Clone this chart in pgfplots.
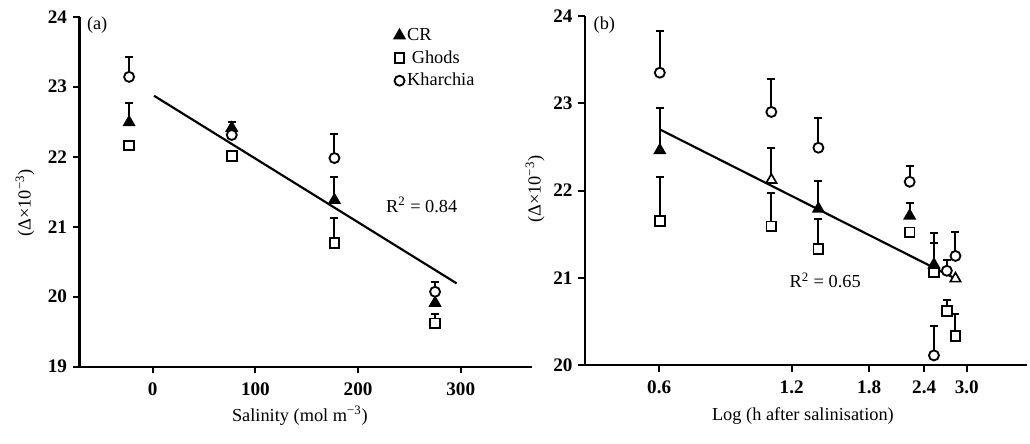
\documentclass[border=0pt]{standalone}
\usepackage{pgfplots}
\pgfplotsset{compat=1.18}
\usepackage{pgfplotstable}
\usepackage{fontspec}
\setmainfont{Liberation Serif}

\pgfplotstableread{
x y e
-23 22.49 0.28
77 22.41 0.09
177 21.38 0.33
275 19.91 0
}\crA
\pgfplotstableread{
x y e
-23 22.16 0
77 22.01 0
177 20.77 0.35
275 19.62 0.13
}\ghA
\pgfplotstableread{
x y e
-23 23.14 0.28
77 22.31 0
177 21.98 0.34
275 20.07 0.14
}\khA
\pgfplotstableread{
x y e
0.602 22.46 0.48
1.380 21.79 0.32
2.225 21.71 0.15
2.526 21.15 0.36
}\crB
\pgfplotstableread{
x y e
1.079 22.12 0.37
2.827 20.99 0
}\crBopen
\pgfplotstableread{
x y e
0.602 21.65 0.50
1.079 21.59 0.38
1.380 21.33 0.34
2.225 21.52 0
2.526 21.06 0.34
2.702 20.62 0.13
2.827 20.33 0.26
}\ghB
\pgfplotstableread{
x y e
0.602 23.35 0.48
1.079 22.90 0.38
1.380 22.49 0.34
2.225 22.10 0.18
2.526 20.11 0.34
2.702 21.08 0.12
2.827 21.25 0.28
}\khB

\pgfplotsset{
  myaxis/.style={
    scale only axis,
    axis lines*=left,
    axis line style={line width=1.4pt},
    tick style={line width=1.2pt, black},
    tick align=outside,
    major tick length=4pt,
    minor tick num=0,
    /pgf/number format/assume math mode=true,
    ticklabel style={font=\fontsize{11.5}{13}\selectfont\bfseries},
    xticklabel style={yshift=-2pt},
    label style={font=\fontsize{11}{13}\selectfont},
    clip=false,
  },
  eb/.style={
    error bars/.cd, y dir=plus, y explicit,
    error bar style={line width=1.2pt, black},
    error mark options={rotate=90, mark size=2.4pt, line width=1.2pt, black},
  },
  crs/.style={only marks, mark=triangle*, mark size=3.6pt, mark options={fill=black, draw=black, line width=1pt}},
  crso/.style={only marks, mark=triangle*, mark size=3.6pt, mark options={fill=white, draw=black, line width=1pt}},
  ghs/.style={only marks, mark=square*, mark size=2.9pt, mark options={fill=white, draw=black, line width=1.1pt}},
  khs/.style={only marks, mark=*, mark size=3pt, mark options={fill=white, draw=black, line width=1.1pt}},
}

\begin{document}
\begin{tikzpicture}[font=\fontsize{11}{13}\selectfont]
\useasboundingbox (0,0) rectangle (618pt,265.8pt);

\begin{axis}[myaxis,
  at={(47.7pt,45.8pt)}, anchor=south west,
  width=271.5pt, height=210pt,
  xmin=-71.3, xmax=369.4, ymin=19, ymax=24,
  xtick={0,100,200,300}, ytick={19,20,21,22,23,24},
  xlabel={Salinity (mol m\textsuperscript{−3})},
  ylabel={(Δ×10\textsuperscript{−3})},
  xlabel style={at={(axis description cs:0.487,0)}, anchor=center, yshift=-29.6pt},
  ylabel style={at={(axis description cs:-0.1204,0.468)}, anchor=center},
  legend style={at={(rel axis cs:0.695,0.975)}, anchor=north west, draw=none, fill=none,
    font=\fontsize{11}{13}\selectfont, row sep=1.5pt, inner sep=0pt, nodes={inner sep=1.5pt}},
  legend cell align=left,
  legend image code/.code={\draw[#1] plot coordinates {(0pt,0pt)};},
]
\addplot[black, line width=1.3pt, forget plot] coordinates {(1.3,22.87) (296,20.19)};
\addplot[crs, eb] table[x=x, y=y, y error=e] {\crA};
\addlegendentry{CR}
\addplot[ghs, eb] table[x=x, y=y, y error=e] {\ghA};
\addlegendentry{\ Ghods}
\addplot[khs, eb] table[x=x, y=y, y error=e] {\khA};
\addlegendentry{Kharchia}
\node[anchor=north west, inner sep=0pt, xshift=4.3pt] at (rel axis cs:0,1) {(a)};
\node at (axis cs:262,21.31) {R\textsuperscript{2} = 0.84};
\end{axis}

\begin{axis}[myaxis,
  at={(351pt,46.8pt)}, anchor=south west,
  width=265.2pt, height=209.4pt,
  xmode=log, log basis x=10,
  xmin=0.407, xmax=4.11, ymin=20, ymax=24,
  xtick={0.6,1.2,1.8,2.4,3.0},
  xticklabels={0.6,1.2,1.8,2.4,3.0},
  ytick={20,21,22,23,24},
  xlabel={Log (h after salinisation)},
  ylabel={(Δ×10\textsuperscript{−3})},
  xlabel style={at={(axis description cs:0.493,0)}, anchor=center, yshift=-30.6pt},
  ylabel style={at={(axis description cs:-0.1131,0.504)}, anchor=center},
]
\addplot[black, line width=1.3pt] coordinates {(0.602,22.70) (2.827,20.99)};
\addplot[crs, eb] table[x=x, y=y, y error=e] {\crB};
\addplot[crso, eb] table[x=x, y=y, y error=e] {\crBopen};
\addplot[ghs, eb] table[x=x, y=y, y error=e] {\ghB};
\addplot[khs, eb] table[x=x, y=y, y error=e] {\khB};
\node[anchor=north west, inner sep=0pt, xshift=5pt] at (rel axis cs:0,1) {(b)};
\node at (axis cs:1.43,20.97) {R\textsuperscript{2} = 0.65};
\end{axis}
\end{tikzpicture}
\end{document}
